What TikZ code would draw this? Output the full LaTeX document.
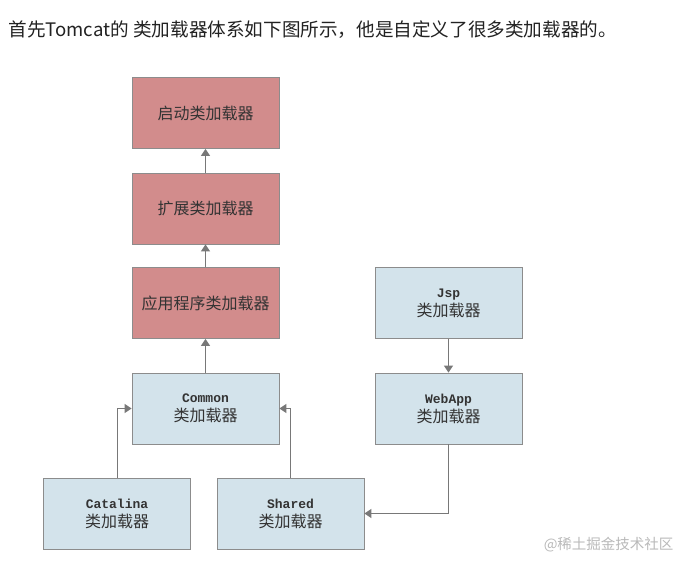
\documentclass[tikz,border=0pt]{standalone}
\usepackage{fontspec}
\setmainfont{Noto Sans CJK SC}
\newfontfamily\latinmono{Liberation Mono}
\usetikzlibrary{arrows.meta,positioning}
\definecolor{redfill}{RGB}{210,140,140}
\definecolor{bluefill}{RGB}{211,227,235}
\definecolor{boxline}{RGB}{140,140,140}
\definecolor{arrline}{RGB}{120,120,120}
\definecolor{headtext}{RGB}{34,34,34}
\definecolor{marktext}{RGB}{185,185,185}

\begin{document}
\begin{tikzpicture}[x=1pt,y=-1pt]%
            \useasboundingbox (0,0) rectangle (692,569); %%
            \tikzstyle{loaderbox}=[draw=boxline,line width=0.8pt,minimum width=147pt,minimum height=71pt,inner sep=0pt,align=center,text=black!80,font=\fontsize{16}{19}\selectfont] %%
            \tikzstyle{redbox}=[loaderbox,fill=redfill] %%
            \tikzstyle{bluebox}=[loaderbox,fill=bluefill] %%
            \tikzstyle{arr}=[draw=arrline,line width=1pt,-{Triangle[width=9pt,length=7pt]},arrline] %%
            \node[anchor=west,text=headtext,font=\fontsize{18.6}{22}\selectfont] (head) at (5,30) {首先Tomcat的 类加载器体系如下图所示，他是自定义了很多类加载器的。}; %%
            \begin{scope}
            \node[redbox] (boot) at (205.5,113) {启动类加载器}; %%
            \node[redbox] (ext) at (205.5,208.5) {扩展类加载器}; %%
            \node[redbox] (app) at (205.5,303) {应用程序类加载器}; %%
            \node[bluebox] (common) at (205.5,408.5) {{\latinmono\bfseries\fontsize{13}{19}\selectfont Common}\\类加载器}; %%
            \node[bluebox] (jsp) at (448.5,303) {{\latinmono\bfseries\fontsize{13}{19}\selectfont Jsp}\\类加载器}; %%
            \node[bluebox] (webapp) at (448.5,408.5) {{\latinmono\bfseries\fontsize{13}{19}\selectfont WebApp}\\类加载器}; %%
            \node[bluebox] (catalina) at (117,513.5) {{\latinmono\bfseries\fontsize{13}{19}\selectfont Catalina}\\类加载器}; %%
            \node[bluebox] (shared) at (290.5,513.5) {{\latinmono\bfseries\fontsize{13}{19}\selectfont Shared}\\类加载器}; %%
            \end{scope}
            \draw[arr] (ext)--(boot); %%
            \draw[arr] (app)--(ext); %%
            \draw[arr] (common)--(app); %%
            \draw[arr] (jsp)--(webapp); %%
            \draw[arr] (catalina.north) |- (common.west); %%
            \draw[arr] (shared.north) |- (common.east); %%
            \draw[arr] (webapp.south) |- (shared.east); %%
            \node[anchor=east,text=marktext,font=\fontsize{14.5}{17}\selectfont] (mark) at (677,545) {@稀土掘金技术社区}; %%
        \end{tikzpicture}
\end{document}
